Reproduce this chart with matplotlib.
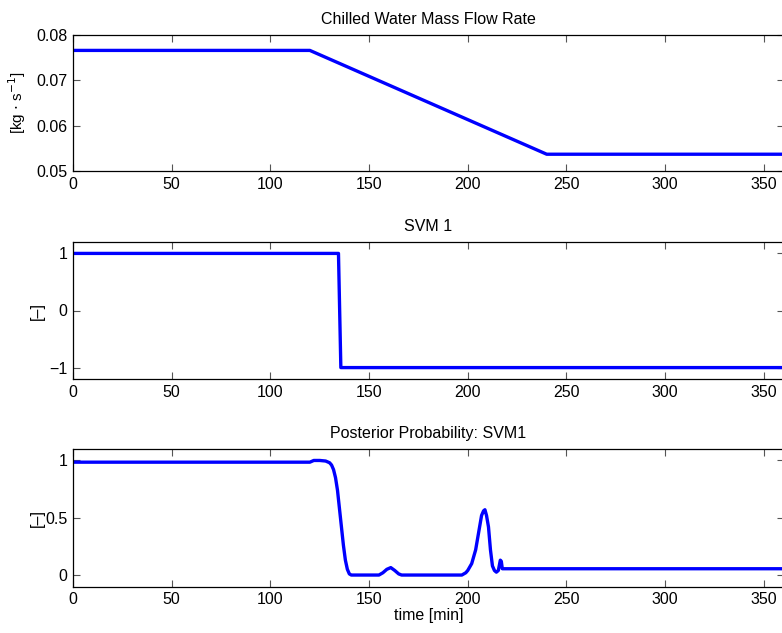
import numpy as np
import matplotlib.pyplot as plt

plt.rcParams['font.family'] = ['Liberation Sans', 'DejaVu Sans']
plt.rcParams['font.size'] = 11.5

# chilled water mass flow rate [kg/s]
t_flow = [0, 120, 240, 360]
flow = [0.0766, 0.0766, 0.0537, 0.0537]

# SVM 1 output
t_svm = [0, 134.5, 135.7, 360]
svm = [1, 1, -1, -1]

# posterior probability SVM1
t_post = [0, 120, 122, 125, 128, 130, 131, 132, 133, 134, 135, 136, 137, 138,
          139, 140, 141, 142, 155, 157, 159, 161, 163, 165, 166.5, 197, 199,
          200, 202, 204, 206, 207, 208, 208.7, 209.5, 210.5, 211.5, 212.5,
          213.5, 214.5, 215.5, 216.5, 217, 217.5, 360]
post = [0.985, 0.985, 1.0, 1.0, 0.995, 0.98, 0.96, 0.92, 0.85, 0.74, 0.58,
        0.42, 0.26, 0.13, 0.05, 0.01, 0.0, 0.0, 0.0, 0.02, 0.05, 0.065, 0.04,
        0.01, 0.0, 0.0, 0.02, 0.04, 0.1, 0.22, 0.42, 0.52, 0.56, 0.57, 0.52,
        0.42, 0.22, 0.08, 0.04, 0.025, 0.04, 0.13, 0.12, 0.055, 0.055]

fig = plt.figure(figsize=(7.82, 6.33), dpi=100)
left, width = 73 / 782, 1.002 - 73 / 782


def make_ax(top_px, bot_px):
    b = 1 - bot_px / 633
    h = (bot_px - top_px) / 633
    ax = fig.add_axes([left, b, width, h])
    ax.tick_params(direction='in', top=True, right=True, length=5,
                   width=0.8, color='#555555', labelsize=11.5, pad=4)
    for s in ax.spines.values():
        s.set_linewidth(0.9)
    ax.set_xlim(0, 360)
    ax.set_xticks(np.arange(0, 351, 50))
    return ax


ax1 = make_ax(35, 171)
ax1.plot(t_flow, flow, color='#0000ff', lw=2.4)
ax1.set_ylim(0.05, 0.08)
ax1.set_yticks([0.05, 0.06, 0.07, 0.08])
ax1.set_yticklabels(['0.05', '0.06', '0.07', '0.08'])
ax1.set_title('Chilled Water Mass Flow Rate', fontsize=11.5, pad=8)
ax1.set_ylabel(r'[kg $\cdot$ s$^{-1}$]', fontsize=11)
ax1.yaxis.set_label_coords(-0.064, 0.5)

ax2 = make_ax(242, 379)
ax2.plot(t_svm, svm, color='#0000ff', lw=2.4)
ax2.set_ylim(-1.2, 1.2)
ax2.set_yticks([-1, 0, 1])
ax2.set_yticklabels(['\u22121', '0', '1'])
ax2.set_title('SVM 1', fontsize=11.5, pad=8)
ax2.set_ylabel('[\u2013]')
ax2.yaxis.set_label_coords(-0.039, 0.5)

ax3 = make_ax(449, 586.5)
ax3.plot(t_post, post, color='#0000ff', lw=2.4)
ax3.set_ylim(-0.1, 1.1)
ax3.set_yticks([0, 0.5, 1])
ax3.set_yticklabels(['0', '0.5', '1'])
ax3.set_title('Posterior Probability: SVM1', fontsize=11.5, pad=8)
ax3.set_ylabel('[\u2013]')
ax3.yaxis.set_label_coords(-0.039, 0.5)
ax3.set_xlabel('time [min]', labelpad=1)

fig.savefig('out.png', dpi=100)
